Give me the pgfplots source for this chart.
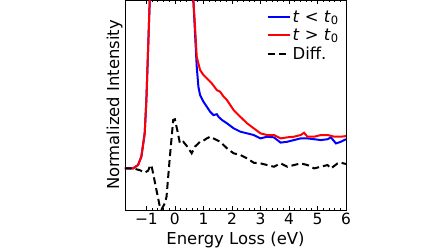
\documentclass[border=0pt]{standalone}
\usepackage{pgfplots}
\pgfplotsset{compat=1.18}
\usepackage{fontspec}
\setmainfont{DejaVu Sans}

\begin{document}
\begin{tikzpicture}
\path[use as bounding box] (-125bp,-42bp) rectangle (323bp,210bp);
\begin{axis}[
    at={(0,0)}, anchor=south west,
    scale only axis,
    width=221bp, height=210bp,
    xmin=-1.75, xmax=6,
    ymin=0, ymax=10,
    xtick={-1,0,...,6},
    minor x tick num=4,
    ytick=\empty,
    tick align=inside,
    xtick pos=both,
    major tick length=4bp,
    minor tick length=2.5bp,
    tick style={black, line width=0.6pt},
    axis line style={line width=0.8pt},
    ticklabel style={font=\fontsize{15.5}{18}\selectfont},
    /pgf/number format/assume math mode=true,
    xticklabel={\ifdim\tick pt<0pt \textminus\pgfmathparse{-\tick}\pgfmathprintnumber{\pgfmathresult}\else\pgfmathprintnumber{\tick}\fi},
    xlabel={Energy Loss (eV)},
    ylabel={Normalized Intensity},
    label style={font=\fontsize{16.5}{19}\selectfont},
    xlabel style={yshift=0bp},
    ylabel style={yshift=-1bp},
    legend style={draw=none, fill=none, at={(0.99,0.97)}, anchor=north east,
        font=\fontsize{16.5}{19}\selectfont, row sep=1bp},
    legend cell align=left,
    legend image code/.code={\draw[#1] (0bp,0bp) -- (22bp,0bp);},
    clip=true,
]
\addplot[color=blue, line width=2pt] coordinates {
    (-1.765,1.98) (-1.471,1.98) (-1.294,2.14) (-1.176,2.54) (-1.059,3.65)
    (-1.0,5.24) (-0.941,7.62) (-0.882,10) (-0.85,12) (-0.7,25) (-0.4,60)
    (0,100) (0.3,60) (0.55,25) (0.62,13) (0.647,10)
    (0.706,8.41) (0.765,6.83) (0.824,5.87) (0.882,5.48) (1.0,5.16)
    (1.118,4.92) (1.235,4.68) (1.353,4.52) (1.471,4.56) (1.529,4.44)
    (1.647,4.29) (1.824,4.13) (2.059,3.89) (2.294,3.73) (2.529,3.65)
    (2.765,3.57) (3.0,3.41) (3.235,3.49) (3.471,3.46) (3.706,3.21)
    (3.941,3.25) (4.176,3.33) (4.412,3.41) (4.647,3.41) (4.882,3.37)
    (5.118,3.33) (5.353,3.37) (5.471,3.46) (5.647,3.17) (5.824,3.25)
    (6.0,3.37)
};
\addlegendentry{\textit{t} < \textit{t}\textsubscript{0}}
\addplot[color=red, line width=2pt] coordinates {
    (-1.765,1.98) (-1.471,1.98) (-1.294,2.14) (-1.176,2.54) (-1.059,3.65)
    (-1.0,5.24) (-0.941,7.62) (-0.882,10) (-0.85,12) (-0.7,25) (-0.4,60)
    (0,100) (0.3,60) (0.55,25) (0.62,13) (0.647,10)
    (0.706,8.73) (0.765,7.30) (0.882,6.67) (1.0,6.43) (1.118,6.27)
    (1.294,6.03) (1.471,5.71) (1.588,5.63) (1.706,5.40) (1.824,5.24)
    (2.059,4.76) (2.294,4.44) (2.529,4.13) (2.765,3.89) (3.0,3.65)
    (3.235,3.57) (3.471,3.57) (3.706,3.41) (3.941,3.46) (4.176,3.49)
    (4.412,3.57) (4.529,3.68) (4.647,3.49) (4.882,3.49) (5.118,3.57)
    (5.353,3.57) (5.588,3.49) (5.824,3.49) (6.0,3.52)
};
\addlegendentry{\textit{t} > \textit{t}\textsubscript{0}}
\addplot[color=black, line width=2pt, dash pattern=on 7bp off 4bp] coordinates {
    (-1.765,1.98) (-1.471,1.98) (-1.235,1.90) (-1.059,1.78) (-0.941,1.87)
    (-0.882,2.06) (-0.824,2.14) (-0.765,1.75) (-0.647,0.95) (-0.529,0.16)
    (-0.471,0.02) (-0.353,0.32) (-0.294,0.63) (-0.176,2.54) (-0.059,4.29)
    (0.0,4.32) (0.082,3.81) (0.176,3.17) (0.294,3.25) (0.435,3.02)
    (0.588,2.70) (0.706,3.02) (0.882,3.25) (1.0,3.30) (1.118,3.41)
    (1.235,3.49) (1.353,3.41) (1.588,3.25) (1.824,2.94) (2.059,2.70)
    (2.294,2.62) (2.529,2.46) (2.765,2.25) (3.0,2.22) (3.235,2.14)
    (3.471,2.06) (3.706,2.22) (3.941,2.06) (4.176,2.14) (4.412,2.22)
    (4.647,2.14) (4.882,1.98) (5.118,2.06) (5.353,2.14) (5.471,1.98)
    (5.706,2.22) (5.824,2.25) (6.0,2.19)
};
\addlegendentry{Diff.}
\end{axis}
\end{tikzpicture}
\end{document}
